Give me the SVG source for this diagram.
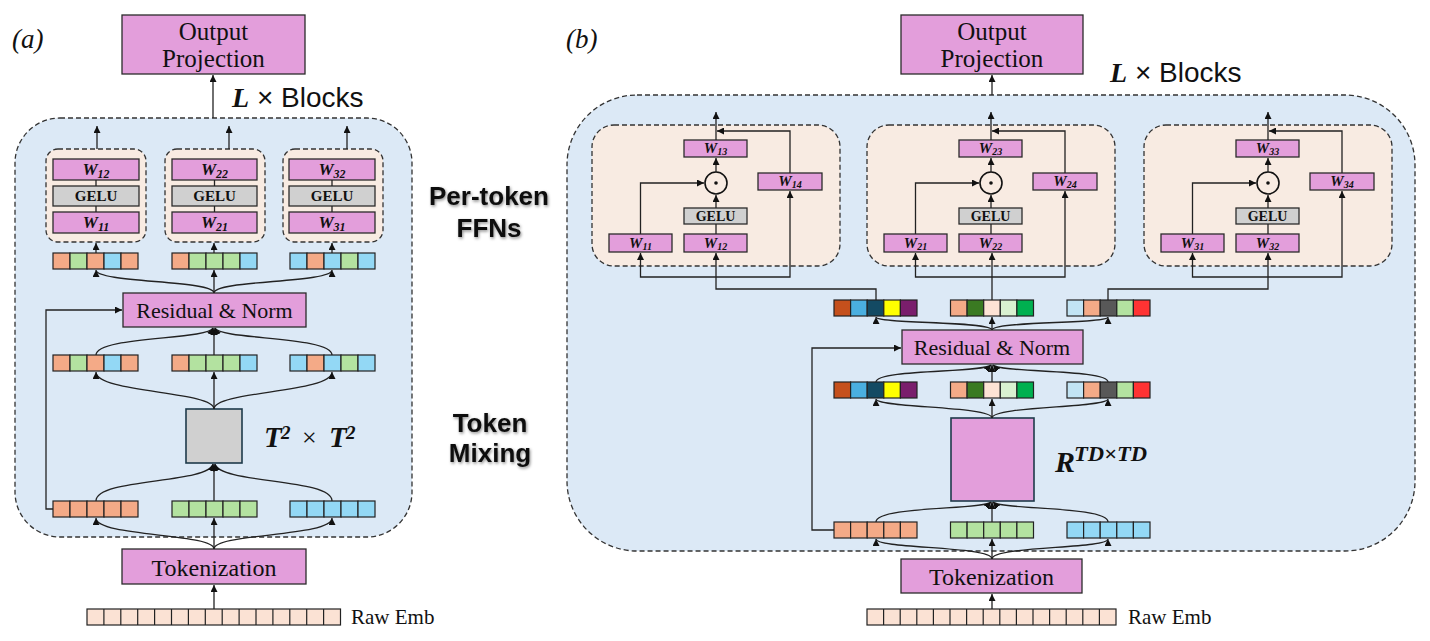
<svg xmlns="http://www.w3.org/2000/svg" width="1430" height="641" viewBox="0 0 1430 641">
<defs>
<marker id="ah" viewBox="0 0 10 10" refX="10" refY="5" markerWidth="7" markerHeight="7" markerUnits="userSpaceOnUse" orient="auto"><path d="M0,0 L10,5 L0,10 z" fill="#111"/></marker>
<filter id="sh" x="-20%" y="-20%" width="140%" height="160%"><feDropShadow dx="1" dy="1.5" stdDeviation="1.5" flood-color="#000" flood-opacity="0.45"/></filter>
<style>
.blk{fill:#e39edb;stroke:#2b2b2b;stroke-width:1.3}
.gry{fill:#d0d0d0;stroke:#2b2b2b;stroke-width:1.3}
.outer{fill:#dce9f6;stroke:#333;stroke-width:1.3;stroke-dasharray:5 3}
.ffn{fill:#f8ebe2;stroke:#333;stroke-width:1.3;stroke-dasharray:5 3}
.conn{fill:none;stroke:#222;stroke-width:1.3}
.arr{marker-end:url(#ah)}
.cell{stroke:#222;stroke-width:1.2}
.s{fill:#f4aa87}.g{fill:#b3e2a0}.b{fill:#93d8f5}.raw{fill:#fbe2d4}
.t{font-family:"Liberation Serif",serif;fill:#111;text-anchor:middle}
.w{font-family:"Liberation Serif",serif;font-weight:bold;font-style:italic;fill:#111;text-anchor:middle}
.gl{font-family:"Liberation Serif",serif;font-weight:bold;fill:#111;text-anchor:middle}
.sans{font-family:"Liberation Sans",sans-serif;fill:#111}
.lab{font-family:"Liberation Sans",sans-serif;font-weight:bold;fill:#111;text-anchor:middle;font-size:26px}
</style>
</defs>
<rect width="1430" height="641" fill="#fff"/>

<!-- ================= PANEL (a) ================= -->
<text x="12" y="48" font-family="Liberation Serif,serif" font-style="italic" font-size="27" fill="#111">(a)</text>
<g id="a-outer"><rect class="outer" x="15" y="118" width="397" height="419" rx="45"/></g>
<g id="a-out"><rect class="blk" x="122" y="15" width="183" height="59"/>
<text class="t" x="213.5" y="40" font-size="25">Output</text><text class="t" x="213.5" y="67" font-size="25">Projection</text></g>
<text x="232" y="107" font-size="28" class="sans"><tspan font-family="Liberation Serif,serif" font-weight="bold" font-style="italic">L</tspan> × Blocks</text>

<g id="a-ffn1"><rect class="ffn" x="46" y="149" width="100" height="93" rx="12"/>
<rect class="blk" x="53" y="159" width="86" height="21"/><text class="w" x="96" y="175" font-size="17">W<tspan font-size="12" dy="3">12</tspan></text>
<rect class="gry" x="53" y="186" width="86" height="20"/><text class="gl" x="96" y="201" font-size="15">GELU</text>
<rect class="blk" x="53" y="212" width="86" height="21"/><text class="w" x="96" y="228" font-size="17">W<tspan font-size="12" dy="3">11</tspan></text></g>
<g id="a-ffn2"><rect class="ffn" x="165" y="149" width="100" height="93" rx="12"/>
<rect class="blk" x="172" y="159" width="85" height="21"/><text class="w" x="214.5" y="175" font-size="17">W<tspan font-size="12" dy="3">22</tspan></text>
<rect class="gry" x="172" y="186" width="85" height="20"/><text class="gl" x="214.5" y="201" font-size="15">GELU</text>
<rect class="blk" x="172" y="212" width="85" height="21"/><text class="w" x="214.5" y="228" font-size="17">W<tspan font-size="12" dy="3">21</tspan></text></g>
<g id="a-ffn3"><rect class="ffn" x="283" y="149" width="100" height="93" rx="12"/>
<rect class="blk" x="289" y="159" width="86" height="21"/><text class="w" x="332" y="175" font-size="17">W<tspan font-size="12" dy="3">32</tspan></text>
<rect class="gry" x="289" y="186" width="86" height="20"/><text class="gl" x="332" y="201" font-size="15">GELU</text>
<rect class="blk" x="289" y="212" width="86" height="21"/><text class="w" x="332" y="228" font-size="17">W<tspan font-size="12" dy="3">31</tspan></text></g>

<g id="a-vec-top">
<rect class="cell s" x="53" y="253" width="17" height="16"/><rect class="cell g" x="70" y="253" width="17" height="16"/><rect class="cell s" x="87" y="253" width="17" height="16"/><rect class="cell b" x="104" y="253" width="17" height="16"/><rect class="cell s" x="121" y="253" width="17" height="16"/>
<rect class="cell s" x="172" y="253" width="17" height="16"/><rect class="cell g" x="189" y="253" width="17" height="16"/><rect class="cell g" x="206" y="253" width="17" height="16"/><rect class="cell g" x="223" y="253" width="17" height="16"/><rect class="cell b" x="240" y="253" width="17" height="16"/>
<rect class="cell b" x="290" y="253" width="17" height="16"/><rect class="cell s" x="307" y="253" width="17" height="16"/><rect class="cell b" x="324" y="253" width="17" height="16"/><rect class="cell g" x="341" y="253" width="17" height="16"/><rect class="cell b" x="358" y="253" width="17" height="16"/>
</g>
<g id="a-res"><rect class="blk" x="123" y="293" width="183" height="34"/><text class="t" x="214.5" y="318" font-size="22">Residual &amp; Norm</text></g>
<g id="a-vec-mid">
<rect class="cell s" x="53" y="355" width="17" height="16"/><rect class="cell g" x="70" y="355" width="17" height="16"/><rect class="cell s" x="87" y="355" width="17" height="16"/><rect class="cell b" x="104" y="355" width="17" height="16"/><rect class="cell s" x="121" y="355" width="17" height="16"/>
<rect class="cell s" x="172" y="355" width="17" height="16"/><rect class="cell g" x="189" y="355" width="17" height="16"/><rect class="cell g" x="206" y="355" width="17" height="16"/><rect class="cell g" x="223" y="355" width="17" height="16"/><rect class="cell b" x="240" y="355" width="17" height="16"/>
<rect class="cell b" x="290" y="355" width="17" height="16"/><rect class="cell s" x="307" y="355" width="17" height="16"/><rect class="cell b" x="324" y="355" width="17" height="16"/><rect class="cell g" x="341" y="355" width="17" height="16"/><rect class="cell b" x="358" y="355" width="17" height="16"/>
</g>
<g id="a-mix"><rect x="186" y="409" width="56" height="54" fill="#d0d0d0" stroke="#1e3a4a" stroke-width="1.6"/></g>
<g id="a-mix-label" font-family="Liberation Serif,serif" font-weight="bold" font-style="italic" fill="#111">
<text x="264" y="447" font-size="29">T</text><text x="281" y="439" font-size="19">2</text>
<text x="302" y="446" font-size="26" font-style="normal" font-weight="normal">×</text>
<text x="329" y="447" font-size="29">T</text><text x="346" y="439" font-size="19">2</text></g>
<g id="a-vec-bot">
<rect class="cell s" x="53" y="501" width="17" height="16"/><rect class="cell s" x="70" y="501" width="17" height="16"/><rect class="cell s" x="87" y="501" width="17" height="16"/><rect class="cell s" x="104" y="501" width="17" height="16"/><rect class="cell s" x="121" y="501" width="17" height="16"/>
<rect class="cell g" x="172" y="501" width="17" height="16"/><rect class="cell g" x="189" y="501" width="17" height="16"/><rect class="cell g" x="206" y="501" width="17" height="16"/><rect class="cell g" x="223" y="501" width="17" height="16"/><rect class="cell g" x="240" y="501" width="17" height="16"/>
<rect class="cell b" x="290" y="501" width="17" height="16"/><rect class="cell b" x="307" y="501" width="17" height="16"/><rect class="cell b" x="324" y="501" width="17" height="16"/><rect class="cell b" x="341" y="501" width="17" height="16"/><rect class="cell b" x="358" y="501" width="17" height="16"/>
</g>
<g id="a-tok"><rect class="blk" x="122" y="549" width="184" height="35"/><text class="t" x="214" y="576" font-size="24">Tokenization</text></g>
<g id="a-raw"><rect class="cell raw" x="87" y="609" width="253.5" height="16"/>
<path d="M103.9,609v16M120.8,609v16M137.7,609v16M154.6,609v16M171.5,609v16M188.4,609v16M205.3,609v16M222.2,609v16M239.1,609v16M256,609v16M272.9,609v16M289.8,609v16M306.7,609v16M323.6,609v16" stroke="#222" stroke-width="1.2"/>
<text x="351" y="624" font-family="Liberation Serif,serif" font-size="21" fill="#111">Raw Emb</text></g>

<g id="a-connectors" class="conn">
<path class="arr" d="M214,609V585"/>
<path class="arr" d="M214,549V518"/>
<path class="arr" d="M214,549C214,533 96,537 96,518"/>
<path class="arr" d="M214,549C214,533 332,537 332,518"/>
<path class="arr" d="M214,501V464"/>
<path class="arr" d="M96,501C96,478 208,484 213,464"/>
<path class="arr" d="M332,501C332,478 220,484 215,464"/>
<path class="arr" d="M214,409V372"/>
<path class="arr" d="M214,409C214,391 96,393 96,372"/>
<path class="arr" d="M214,409C214,391 332,393 332,372"/>
<path class="arr" d="M214,355V328"/>
<path class="arr" d="M96,355C96,336 208,340 213,328"/>
<path class="arr" d="M332,355C332,336 220,340 215,328"/>
<path class="arr" d="M214,293V270"/>
<path class="arr" d="M214,293C214,280 96,283 96,270"/>
<path class="arr" d="M214,293C214,280 332,283 332,270"/>
<path class="arr" d="M96,253V243"/>
<path class="arr" d="M214,253V243"/>
<path class="arr" d="M332,253V243"/>
<path d="M96,212V206M96,186V180M214.5,212V206M214.5,186V180M332,212V206M332,186V180"/>
<path class="arr" d="M97,149V126"/>
<path class="arr" d="M229,149V126"/>
<path class="arr" d="M347,149V126"/>
<path class="arr" d="M213,118V75"/>
<path class="arr" d="M53,509H46V310H122"/>
</g>

<!-- middle labels -->
<g id="labels" filter="url(#sh)">
<text class="lab" x="489" y="205">Per-token</text>
<text class="lab" x="489" y="237">FFNs</text>
<text class="lab" x="490" y="432">Token</text>
<text class="lab" x="490" y="462">Mixing</text>
</g>

<!-- ================= PANEL (b) ================= -->
<text x="566" y="48" font-family="Liberation Serif,serif" font-style="italic" font-size="27" fill="#111">(b)</text>
<g id="b-outer"><rect class="outer" x="567" y="95" width="848" height="456" rx="70"/></g>
<g id="b-out"><rect class="blk" x="901" y="15" width="182" height="59"/>
<text class="t" x="992" y="40" font-size="25">Output</text><text class="t" x="992" y="67" font-size="25">Projection</text></g>
<text x="1110" y="82" font-size="28" class="sans"><tspan font-family="Liberation Serif,serif" font-weight="bold" font-style="italic">L</tspan> × Blocks</text>

<g id="b-ffn1"><rect class="ffn" x="592" y="125" width="248" height="141" rx="22"/>
<rect class="blk" x="684" y="140" width="63" height="17"/><text class="w" x="715.5" y="153" font-size="15">W<tspan font-size="10" dy="2">13</tspan></text>
<circle cx="716" cy="183" r="11" fill="#f8ebe2" stroke="#111" stroke-width="1.6"/><circle cx="716" cy="183" r="1.8" fill="#111"/>
<rect class="blk" x="758" y="173" width="64" height="17"/><text class="w" x="790" y="186" font-size="15">W<tspan font-size="10" dy="2">14</tspan></text>
<rect class="gry" x="684" y="208" width="63" height="16"/><text class="gl" x="715.5" y="221" font-size="14">GELU</text>
<rect class="blk" x="609" y="234" width="63" height="18"/><text class="w" x="640.5" y="248" font-size="15">W<tspan font-size="10" dy="2">11</tspan></text>
<rect class="blk" x="684" y="234" width="63" height="18"/><text class="w" x="715.5" y="248" font-size="15">W<tspan font-size="10" dy="2">12</tspan></text></g>
<g id="b-ffn2"><rect class="ffn" x="867" y="125" width="248" height="141" rx="22"/>
<rect class="blk" x="959" y="140" width="63" height="17"/><text class="w" x="990.5" y="153" font-size="15">W<tspan font-size="10" dy="2">23</tspan></text>
<circle cx="991" cy="183" r="11" fill="#f8ebe2" stroke="#111" stroke-width="1.6"/><circle cx="991" cy="183" r="1.8" fill="#111"/>
<rect class="blk" x="1033" y="173" width="64" height="17"/><text class="w" x="1065" y="186" font-size="15">W<tspan font-size="10" dy="2">24</tspan></text>
<rect class="gry" x="959" y="208" width="63" height="16"/><text class="gl" x="990.5" y="221" font-size="14">GELU</text>
<rect class="blk" x="884" y="234" width="63" height="18"/><text class="w" x="915.5" y="248" font-size="15">W<tspan font-size="10" dy="2">21</tspan></text>
<rect class="blk" x="959" y="234" width="63" height="18"/><text class="w" x="990.5" y="248" font-size="15">W<tspan font-size="10" dy="2">22</tspan></text></g>
<g id="b-ffn3"><rect class="ffn" x="1144" y="125" width="248" height="141" rx="22"/>
<rect class="blk" x="1236" y="140" width="63" height="17"/><text class="w" x="1267.5" y="153" font-size="15">W<tspan font-size="10" dy="2">33</tspan></text>
<circle cx="1268" cy="183" r="11" fill="#f8ebe2" stroke="#111" stroke-width="1.6"/><circle cx="1268" cy="183" r="1.8" fill="#111"/>
<rect class="blk" x="1310" y="173" width="64" height="17"/><text class="w" x="1342" y="186" font-size="15">W<tspan font-size="10" dy="2">34</tspan></text>
<rect class="gry" x="1236" y="208" width="63" height="16"/><text class="gl" x="1267.5" y="221" font-size="14">GELU</text>
<rect class="blk" x="1161" y="234" width="63" height="18"/><text class="w" x="1192.5" y="248" font-size="15">W<tspan font-size="10" dy="2">31</tspan></text>
<rect class="blk" x="1236" y="234" width="63" height="18"/><text class="w" x="1267.5" y="248" font-size="15">W<tspan font-size="10" dy="2">32</tspan></text></g>

<g id="b-vec-top">
<rect class="cell" fill="#c5501c" x="834" y="300" width="16.6" height="16"/><rect class="cell" fill="#4aafe0" x="850.6" y="300" width="16.6" height="16"/><rect class="cell" fill="#134a63" x="867.2" y="300" width="16.6" height="16"/><rect class="cell" fill="#ffff00" x="883.8" y="300" width="16.6" height="16"/><rect class="cell" fill="#7a1e6c" x="900.4" y="300" width="16.6" height="16"/>
<rect class="cell" fill="#f4aa87" x="950.5" y="300" width="16.6" height="16"/><rect class="cell" fill="#3a7a22" x="967.1" y="300" width="16.6" height="16"/><rect class="cell" fill="#fde3d5" x="983.7" y="300" width="16.6" height="16"/><rect class="cell" fill="#d9f1d1" x="1000.3" y="300" width="16.6" height="16"/><rect class="cell" fill="#00b050" x="1016.9" y="300" width="16.6" height="16"/>
<rect class="cell" fill="#c2e4f4" x="1067" y="300" width="16.6" height="16"/><rect class="cell" fill="#f4aa87" x="1083.6" y="300" width="16.6" height="16"/><rect class="cell" fill="#585858" x="1100.2" y="300" width="16.6" height="16"/><rect class="cell" fill="#b3e2a0" x="1116.8" y="300" width="16.6" height="16"/><rect class="cell" fill="#ff3333" x="1133.4" y="300" width="16.6" height="16"/>
</g>
<g id="b-res"><rect class="blk" x="902" y="330" width="181" height="34"/><text class="t" x="992" y="355" font-size="22">Residual &amp; Norm</text></g>
<g id="b-vec-mid">
<rect class="cell" fill="#c5501c" x="834" y="382" width="16.6" height="16"/><rect class="cell" fill="#4aafe0" x="850.6" y="382" width="16.6" height="16"/><rect class="cell" fill="#134a63" x="867.2" y="382" width="16.6" height="16"/><rect class="cell" fill="#ffff00" x="883.8" y="382" width="16.6" height="16"/><rect class="cell" fill="#7a1e6c" x="900.4" y="382" width="16.6" height="16"/>
<rect class="cell" fill="#f4aa87" x="950.5" y="382" width="16.6" height="16"/><rect class="cell" fill="#3a7a22" x="967.1" y="382" width="16.6" height="16"/><rect class="cell" fill="#fde3d5" x="983.7" y="382" width="16.6" height="16"/><rect class="cell" fill="#d9f1d1" x="1000.3" y="382" width="16.6" height="16"/><rect class="cell" fill="#00b050" x="1016.9" y="382" width="16.6" height="16"/>
<rect class="cell" fill="#c2e4f4" x="1067" y="382" width="16.6" height="16"/><rect class="cell" fill="#f4aa87" x="1083.6" y="382" width="16.6" height="16"/><rect class="cell" fill="#585858" x="1100.2" y="382" width="16.6" height="16"/><rect class="cell" fill="#b3e2a0" x="1116.8" y="382" width="16.6" height="16"/><rect class="cell" fill="#ff3333" x="1133.4" y="382" width="16.6" height="16"/>
</g>
<g id="b-mix"><rect x="951" y="418" width="83" height="83" fill="#e39edb" stroke="#1e3a4a" stroke-width="1.6"/></g>
<g id="b-mix-label" font-family="Liberation Serif,serif" font-weight="bold" font-style="italic" fill="#111">
<text x="1055" y="472" font-size="30">R</text><text x="1074" y="461" font-size="20" textLength="73" lengthAdjust="spacingAndGlyphs">TD×TD</text></g>
<g id="b-vec-bot">
<rect class="cell s" x="834" y="522" width="16.6" height="16"/><rect class="cell s" x="850.6" y="522" width="16.6" height="16"/><rect class="cell s" x="867.2" y="522" width="16.6" height="16"/><rect class="cell s" x="883.8" y="522" width="16.6" height="16"/><rect class="cell s" x="900.4" y="522" width="16.6" height="16"/>
<rect class="cell g" x="950.5" y="522" width="16.6" height="16"/><rect class="cell g" x="967.1" y="522" width="16.6" height="16"/><rect class="cell g" x="983.7" y="522" width="16.6" height="16"/><rect class="cell g" x="1000.3" y="522" width="16.6" height="16"/><rect class="cell g" x="1016.9" y="522" width="16.6" height="16"/>
<rect class="cell b" x="1067" y="522" width="16.6" height="16"/><rect class="cell b" x="1083.6" y="522" width="16.6" height="16"/><rect class="cell b" x="1100.2" y="522" width="16.6" height="16"/><rect class="cell b" x="1116.8" y="522" width="16.6" height="16"/><rect class="cell b" x="1133.4" y="522" width="16.6" height="16"/>
</g>
<g id="b-tok"><rect class="blk" x="901" y="559" width="181" height="34"/><text class="t" x="991.5" y="585" font-size="24">Tokenization</text></g>
<g id="b-raw"><rect class="cell raw" x="867" y="609" width="249" height="16"/>
<path d="M883.6,609v16M900.2,609v16M916.8,609v16M933.4,609v16M950,609v16M966.6,609v16M983.2,609v16M999.8,609v16M1016.4,609v16M1033,609v16M1049.6,609v16M1066.2,609v16M1082.8,609v16M1099.4,609v16" stroke="#222" stroke-width="1.2"/>
<text x="1128" y="624" font-family="Liberation Serif,serif" font-size="21" fill="#111">Raw Emb</text></g>

<g id="b-connectors" class="conn">
<path class="arr" d="M992,609V594"/>
<path class="arr" d="M992,559V539"/>
<path class="arr" d="M992,559C992,546 876,549 876,539"/>
<path class="arr" d="M992,559C992,546 1108,549 1108,539"/>
<path class="arr" d="M992,522V502"/>
<path class="arr" d="M876,522C876,506 984,510 991,502"/>
<path class="arr" d="M1108,522C1108,506 1000,510 993,502"/>
<path class="arr" d="M992,418V399"/>
<path class="arr" d="M992,418C992,406 876,408 876,399"/>
<path class="arr" d="M992,418C992,406 1108,408 1108,399"/>
<path class="arr" d="M992,382V365"/>
<path class="arr" d="M876,382C876,369 984,373 991,365"/>
<path class="arr" d="M1108,382C1108,369 1000,373 993,365"/>
<path class="arr" d="M992,330V317"/>
<path class="arr" d="M992,330C992,321 876,324 876,317"/>
<path class="arr" d="M992,330C992,321 1108,324 1108,317"/>
<path class="arr" d="M834,530H812V348H901"/>
<path class="arr" d="M992,95V75"/>
<!-- routing to FFNs -->
<path class="arr" d="M876,300V289H716V253"/>
<path class="arr" d="M992,300V253"/>
<path class="arr" d="M1108,300V289H1268V253"/>
<!-- FFN internals (box offsets 0, 275, 552) -->
<path class="arr" d="M716,277H640.5V253"/><path class="arr" d="M716,277H790V191"/>
<path d="M716,234V224"/><path class="arr" d="M716,208V195"/><path class="arr" d="M716,172V158"/><path class="arr" d="M716,140V112"/>
<path class="arr" d="M640.5,234V183H704"/><path class="arr" d="M790,173V131H717"/>
<path class="arr" d="M991,277H915.5V253"/><path class="arr" d="M991,277H1065V191"/>
<path d="M991,234V224"/><path class="arr" d="M991,208V195"/><path class="arr" d="M991,172V158"/><path class="arr" d="M991,140V112"/>
<path class="arr" d="M915.5,234V183H979"/><path class="arr" d="M1065,173V131H992"/>
<path class="arr" d="M1268,277H1192.5V253"/><path class="arr" d="M1268,277H1342V191"/>
<path d="M1268,234V224"/><path class="arr" d="M1268,208V195"/><path class="arr" d="M1268,172V158"/><path class="arr" d="M1268,140V112"/>
<path class="arr" d="M1192.5,234V183H1256"/><path class="arr" d="M1342,173V131H1269"/>
</g>
</svg>
